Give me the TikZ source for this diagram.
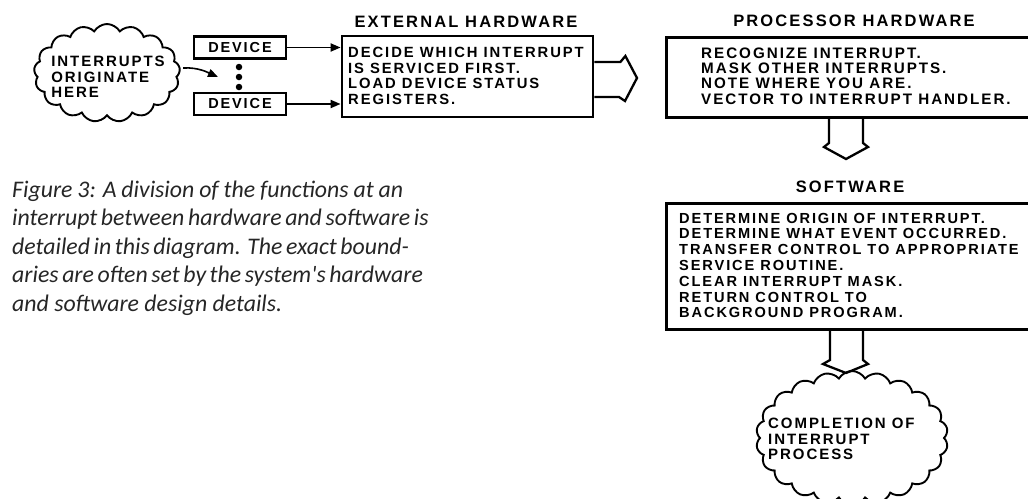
\documentclass[tikz,border=0pt]{standalone}
\usepackage{fontspec}
\setmainfont{Liberation Sans}
\newfontfamily\lett[LetterSpace=13]{Liberation Sans}
\newfontfamily\capfont{Carlito}
\usetikzlibrary{shapes.symbols,arrows.meta,calc}
\begin{document}
\begin{tikzpicture}[x=1pt,y=-1pt,
  boxtxt/.style={align=left, inner sep=0pt},
  cloudtxt/.style={font=\lett\bfseries\fontsize{15}{15.5}\selectfont, align=left, inner sep=0pt},
  titletxt/.style={font=\lett\bfseries\fontsize{16.5}{18}\selectfont, inner sep=0pt},
  boxframe/.style={draw, line width=2.8pt, inner sep=0pt},
  devbox/.style={draw, line width=2.3pt, minimum width=92pt, minimum height=22pt, inner sep=0pt, font=\lett\bfseries\fontsize{14.5}{15}\selectfont},
  puff/.style={cloud, draw, line width=1.9pt, cloud puff arc=120, inner sep=0pt},
  dotn/.style={circle, fill, inner sep=0pt, minimum size=6.5pt},
  link/.style={line width=1.9pt, -{Triangle[length=10pt,width=8pt]}},
  hollow/.style={line width=2.3pt, line join=miter},
  captxt/.style={font=\capfont\itshape\fontsize{23.8}{28}\selectfont, inner sep=0pt, anchor=base west, text=black!85}
]
\useasboundingbox (0,0) rectangle (1028,498);
\clip (0,0) rectangle (1028,498);

% source cloud
\node[puff, cloud puffs=17, minimum width=146pt, minimum height=98pt] (src) at (107,73) {};
\node[cloudtxt] (srctxt) at (108,77) {INTERRUPTS\\ORIGINATE\\HERE};

% devices
\node[devbox] (dev1) at (240,47.5) {DEVICE};
\node[devbox] (dev2) at (240,104) {DEVICE};
\node[dotn] (d1) at (239,67) {};
\node[dotn] (d2) at (239,77) {};
\node[dotn] (d3) at (239,87) {};
\coordinate (dotsin) at (218,77);

% external hardware
\node[titletxt] (exttitle) at (466,22) {EXTERNAL HARDWARE};
\node[boxframe, minimum width=251pt, minimum height=81pt] (ext) at (467.5,76.5) {};
\node[boxtxt, anchor=west, font=\lett\bfseries\fontsize{14.8}{15.6}\selectfont] (exttxt) at (348,76) {DECIDE WHICH INTERRUPT\\IS SERVICED FIRST.\\LOAD DEVICE STATUS\\REGISTERS.};

\draw[link] (dev1.east) -- (dev1.east -| ext.west);
\draw[link] (dev2.east) -- (dev2.east -| ext.west);
\draw[link, line width=1.6pt] ($(src.east)+(3,-5)$) .. controls +(15,-1) and +(-9,-4) .. (dotsin);

% hollow arrow to processor
\draw[hollow] (ext.east |- 0,62) -- ++(26,0) -- ++(5,-6) -- (637,78) -- (625,101) -- ++(-6,-4) -- (ext.east |- 0,97);

% processor hardware
\node[titletxt] (proctitle) at (854,21) {PROCESSOR HARDWARE};
\node[boxframe, minimum width=400pt, minimum height=80pt, anchor=north west] (proc) at (665,36) {};
\node[boxtxt, anchor=west, font=\lett\bfseries\fontsize{15.2}{15.4}\selectfont] (proctxt) at (701,76) {RECOGNIZE INTERRUPT.\\MASK OTHER INTERRUPTS.\\NOTE WHERE YOU ARE.\\VECTOR TO INTERRUPT HANDLER.};

% software
\node[titletxt] (softtitle) at (850,187) {SOFTWARE};
\node[boxframe, minimum width=400pt, minimum height=126pt, anchor=north west] (soft) at (665,202) {};
\node[boxtxt, anchor=west, font=\lett\bfseries\fontsize{14.6}{15.8}\selectfont] (softtxt) at (679,265.5) {DETERMINE ORIGIN OF INTERRUPT.\\DETERMINE WHAT EVENT OCCURRED.\\TRANSFER CONTROL TO APPROPRIATE\\SERVICE ROUTINE.\\CLEAR INTERRUPT MASK.\\RETURN CONTROL TO\\BACKGROUND PROGRAM.};

\draw[hollow] (proc.south -| 829,0) -- (829,143) -- (824,147) -- (846,159) -- (868,147) -- (863,143) -- (proc.south -| 863,0);

% completion cloud
\node[puff, cloud puffs=22, minimum width=192pt, minimum height=134pt] (done) at (852,438) {};
\node[cloudtxt, anchor=west] (donetxt) at (768,439) {COMPLETION OF\\INTERRUPT\\PROCESS};

\draw[hollow] (soft.south -| 830,0) -- (830,360) -- (823,364) -- (846,373) -- (868,364) -- (863,360) -- (soft.south -| 863,0);

% caption
\node[captxt] (cap1) at (12,197) {\makebox[391pt][s]{Figure 3: A division of the functions at an}};
\node[captxt] (cap2) at (12,225.5) {\makebox[391pt][s]{interrupt between hardware and software is}};
\node[captxt] (cap3) at (12,254) {\makebox[391pt][s]{detailed in this diagram. The exact bound-}};
\node[captxt] (cap4) at (12,282.5) {\makebox[391pt][s]{aries are often set by the system's hardware}};
\node[captxt] (cap5) at (12,311) {and software design details.};
\end{tikzpicture}
\end{document}
